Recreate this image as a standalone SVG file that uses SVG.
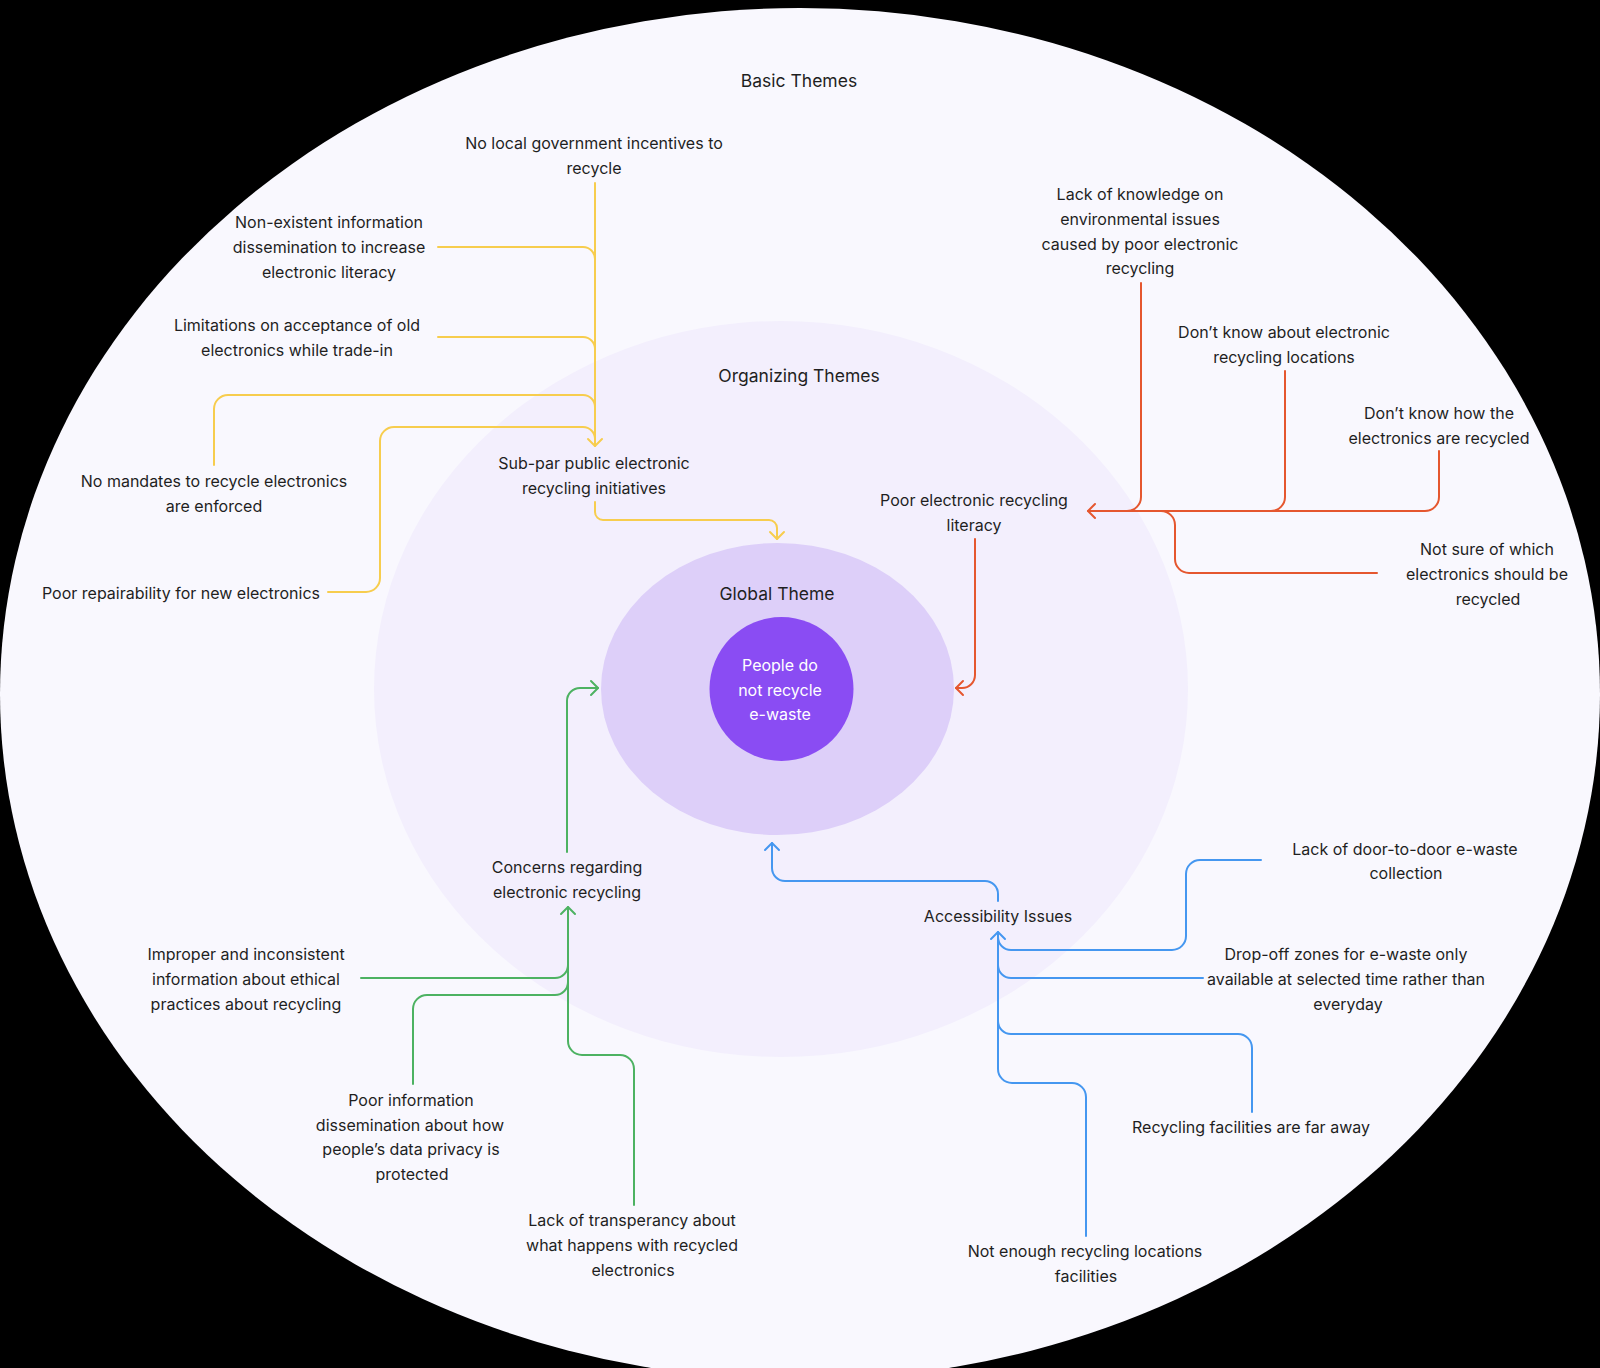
<svg xmlns="http://www.w3.org/2000/svg" width="1600" height="1368" viewBox="0 0 1600 1368">
<style>
.t{font-family:Inter,"Noto Sans","Liberation Sans",sans-serif;font-size:16px;fill:#1f1f1f;text-anchor:middle}
.h{font-family:Inter,"Noto Sans","Liberation Sans",sans-serif;font-size:17.5px;fill:#1f1f1f;text-anchor:middle}
.w{fill:#ffffff}
.c{fill:none;stroke-width:2;stroke-linecap:round;stroke-linejoin:round}
.y{stroke:#F7CD4E}.r{stroke:#E5572F}.g{stroke:#4DB262}.b{stroke:#4597F0}
</style>
<defs>
<marker id="ay" viewBox="-10 -10 20 20" refX="0" refY="0" markerWidth="20" markerHeight="20" markerUnits="userSpaceOnUse" orient="auto"><path d="M-7,-7 L0,0 L-7,7" fill="none" stroke="#F7CD4E" stroke-width="2" stroke-linecap="round" stroke-linejoin="round"/></marker>
<marker id="ar" viewBox="-10 -10 20 20" refX="0" refY="0" markerWidth="20" markerHeight="20" markerUnits="userSpaceOnUse" orient="auto"><path d="M-7,-7 L0,0 L-7,7" fill="none" stroke="#E5572F" stroke-width="2" stroke-linecap="round" stroke-linejoin="round"/></marker>
<marker id="ag" viewBox="-10 -10 20 20" refX="0" refY="0" markerWidth="20" markerHeight="20" markerUnits="userSpaceOnUse" orient="auto"><path d="M-7,-7 L0,0 L-7,7" fill="none" stroke="#4DB262" stroke-width="2" stroke-linecap="round" stroke-linejoin="round"/></marker>
<marker id="ab" viewBox="-10 -10 20 20" refX="0" refY="0" markerWidth="20" markerHeight="20" markerUnits="userSpaceOnUse" orient="auto"><path d="M-7,-7 L0,0 L-7,7" fill="none" stroke="#4597F0" stroke-width="2" stroke-linecap="round" stroke-linejoin="round"/></marker>
</defs>
<rect x="0" y="0" width="1600" height="1368" fill="#000000"/>
<g id="rings">
<ellipse id="basic-ring" cx="800" cy="694" rx="800" ry="686" fill="#F9F8FE"/>
<ellipse id="organizing-ring" cx="781" cy="689" rx="407" ry="368" fill="#F3EFFD"/>
<ellipse id="global-ring" cx="777.5" cy="689" rx="176.5" ry="146" fill="#DDCFF9"/>
</g>
<g id="titles">
<text class="h" x="799" y="87">Basic Themes</text>
<text class="h" x="799" y="382">Organizing Themes</text>
<text class="h" x="777" y="600">Global Theme</text>
</g>
<g id="connectors">
<path class="c y" d="M595 183 V446" marker-end="url(#ay)"/>
<path class="c y" d="M438 247 H583 A12 12 0 0 1 595 259"/>
<path class="c y" d="M438 337 H583 A12 12 0 0 1 595 349"/>
<path class="c y" d="M214 465 V409 A14 14 0 0 1 228 395 H583 A12 12 0 0 1 595 407"/>
<path class="c y" d="M328 592 H366 A14 14 0 0 0 380 578 V441 A14 14 0 0 1 394 427 H583 A12 12 0 0 1 595 439"/>
<path class="c y" d="M595 502 V512 A8 8 0 0 0 603 520 H769 A8 8 0 0 1 777 528 V539" marker-end="url(#ay)"/>
<path class="c r" d="M1439 451 V497 A14 14 0 0 1 1425 511 H1088" marker-end="url(#ar)"/>
<path class="c r" d="M1141 283 V497 A14 14 0 0 1 1127 511"/>
<path class="c r" d="M1285 371 V497 A14 14 0 0 1 1271 511"/>
<path class="c r" d="M1377 573 H1189 A14 14 0 0 1 1175 559 V525 A14 14 0 0 0 1161 511"/>
<path class="c r" d="M975 539 V675 A13 13 0 0 1 962 688 H956" marker-end="url(#ar)"/>
<path class="c g" d="M567 852 V701 A13 13 0 0 1 580 688 H598" marker-end="url(#ag)"/>
<path class="c g" d="M634 1205 V1069 A14 14 0 0 0 620 1055 H582 A14 14 0 0 1 568 1041 V907" marker-end="url(#ag)"/>
<path class="c g" d="M361 978 H555 A13 13 0 0 0 568 965"/>
<path class="c g" d="M413 1084 V1009 A14 14 0 0 1 427 995 H555 A13 13 0 0 0 568 982"/>
<path class="c b" d="M998 901 V894 A13 13 0 0 0 985 881 H785 A13 13 0 0 1 772 868 V843" marker-end="url(#ab)"/>
<path class="c b" d="M1086 1236 V1097 A14 14 0 0 0 1072 1083 H1012 A14 14 0 0 1 998 1069 V932" marker-end="url(#ab)"/>
<path class="c b" d="M1261 860 H1200 A14 14 0 0 0 1186 874 V936 A14 14 0 0 1 1172 950 H1011 A13 13 0 0 1 998 937"/>
<path class="c b" d="M1203 978 H1011 A13 13 0 0 1 998 965"/>
<path class="c b" d="M1252 1112 V1048 A14 14 0 0 0 1238 1034 H1011 A13 13 0 0 1 998 1021"/>
</g>
<g id="global-theme">
<circle cx="781.5" cy="689" r="72" fill="#8A4CF3"/>
<text class="t w" x="780" y="670.5">People do</text>
<text class="t w" x="780" y="695.5">not recycle</text>
<text class="t w" x="780" y="719.5">e-waste</text>
</g>
<g id="subpar">
<text class="t" x="594" y="468.5">Sub-par public electronic</text>
<text class="t" x="594" y="493.5">recycling initiatives</text>
</g>
<g id="y1">
<text class="t" x="594" y="148.5">No local government incentives to</text>
<text class="t" x="594" y="173.5">recycle</text>
</g>
<g id="y2">
<text class="t" x="329" y="227.5">Non-existent information</text>
<text class="t" x="329" y="252.5">dissemination to increase</text>
<text class="t" x="329" y="277.5">electronic literacy</text>
</g>
<g id="y3">
<text class="t" x="297" y="330.5">Limitations on acceptance of old</text>
<text class="t" x="297" y="355.5">electronics while trade-in</text>
</g>
<g id="y4">
<text class="t" x="214" y="486.5">No mandates to recycle electronics</text>
<text class="t" x="214" y="511.5">are enforced</text>
</g>
<g id="y5">
<text class="t" x="181" y="598.5">Poor repairability for new electronics</text>
</g>
<g id="literacy">
<text class="t" x="974" y="505.5">Poor electronic recycling</text>
<text class="t" x="974" y="530.5">literacy</text>
</g>
<g id="r1">
<text class="t" x="1140" y="199.5">Lack of knowledge on</text>
<text class="t" x="1140" y="224.5">environmental issues</text>
<text class="t" x="1140" y="249.5">caused by poor electronic</text>
<text class="t" x="1140" y="273.5">recycling</text>
</g>
<g id="r2">
<text class="t" x="1284" y="337.5">Don’t know about electronic</text>
<text class="t" x="1284" y="362.5">recycling locations</text>
</g>
<g id="r3">
<text class="t" x="1439" y="418.5">Don’t know how the</text>
<text class="t" x="1439" y="443.5">electronics are recycled</text>
</g>
<g id="r4">
<text class="t" x="1487" y="554.5">Not sure of which</text>
<text class="t" x="1487" y="579.5">electronics should be</text>
<text class="t" x="1488" y="604.5">recycled</text>
</g>
<g id="concerns">
<text class="t" x="567" y="872.5">Concerns regarding</text>
<text class="t" x="567" y="897.5">electronic recycling</text>
</g>
<g id="g1">
<text class="t" x="246" y="959.5">Improper and inconsistent</text>
<text class="t" x="246" y="984.5">information about ethical</text>
<text class="t" x="246" y="1009.5">practices about recycling</text>
</g>
<g id="g2">
<text class="t" x="411" y="1105.5">Poor information</text>
<text class="t" x="410" y="1130.5">dissemination about how</text>
<text class="t" x="411" y="1154.5">people’s data privacy is</text>
<text class="t" x="412" y="1179.5">protected</text>
</g>
<g id="g3">
<text class="t" x="632" y="1225.5">Lack of transperancy about</text>
<text class="t" x="632" y="1250.5">what happens with recycled</text>
<text class="t" x="633" y="1275.5">electronics</text>
</g>
<g id="accessibility">
<text class="t" x="998" y="921.5">Accessibility Issues</text>
</g>
<g id="b1">
<text class="t" x="1405" y="854.5">Lack of door-to-door e-waste</text>
<text class="t" x="1406" y="878.5">collection</text>
</g>
<g id="b2">
<text class="t" x="1346" y="959.5">Drop-off zones for e-waste only</text>
<text class="t" x="1346" y="984.5">available at selected time rather than</text>
<text class="t" x="1348" y="1009.5">everyday</text>
</g>
<g id="b3">
<text class="t" x="1251" y="1132.5">Recycling facilities are far away</text>
</g>
<g id="b4">
<text class="t" x="1085" y="1256.5">Not enough recycling locations</text>
<text class="t" x="1086" y="1281.5">facilities</text>
</g>
</svg>
